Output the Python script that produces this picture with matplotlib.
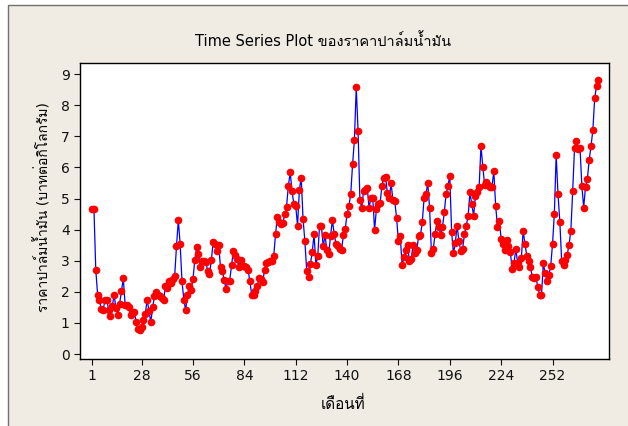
import matplotlib
matplotlib.use("Agg")
import matplotlib.pyplot as plt
from matplotlib import font_manager as fm
from matplotlib.ft2font import FT2Font
from matplotlib.patches import Rectangle

# ราคาปาล์มน้ำมันรายเดือน (บาท/กก.) อ่านค่าจากกราฟ
price_1 = [4.65, 4.67, 2.71, 1.91, 1.73, 1.44, 1.40, 1.74, 1.75, 1.41,
           1.22, 1.54, 1.90, 1.48, 1.27, 1.62, 2.02, 2.43, 1.59, 1.57,
           1.50, 1.27, 1.36, 1.36, 1.04, 0.80, 0.77, 0.88, 1.08, 1.29,
           1.75, 1.38, 1.02, 1.50, 1.86, 1.99]
price_2 = [1.91, 1.86, 1.80, 1.75, 2.18, 2.12, 2.34, 2.28, 2.41, 2.50,
           3.46, 4.31, 3.53, 2.34, 1.75, 1.41, 1.90, 2.18, 2.07, 2.42,
           3.03, 3.43, 3.21, 2.79, 3.00, 3.00, 2.96, 2.68, 2.57, 3.02,
           3.60, 3.53, 3.32, 3.51, 2.79, 2.68, 2.38, 2.10, 2.36, 2.36,
           2.85, 3.32]
price_3 = [3.19, 3.07, 2.80, 3.03, 2.82, 2.82, 2.80, 2.71, 2.34, 1.91,
           1.91, 2.02, 2.18, 2.44, 2.42, 2.31, 2.71, 2.92, 2.95, 2.98,
           2.98, 3.14, 3.85, 4.42, 4.24, 4.19, 4.21, 4.50, 4.74, 5.41,
           5.84, 5.24, 4.81, 4.77, 4.13, 5.28, 5.67, 4.35, 3.62, 2.68,
           2.47, 2.89, 3.28]
price_4 = [3.85, 2.87, 3.14, 4.13, 4.11, 3.46, 3.83, 3.33, 3.21, 3.81,
           4.31, 3.85, 3.53, 3.46, 3.39, 3.35, 3.83, 4.03, 4.50, 4.77,
           5.14, 6.10, 6.88, 8.58, 7.16, 4.95, 4.71, 5.24, 5.28, 5.35,
           4.69, 5.03, 5.03, 3.99, 4.67, 4.81, 4.85, 5.41, 5.67, 5.70,
           5.17]
price_5 = [5.01, 5.49, 4.95, 4.92, 4.37, 3.62, 3.78, 2.87, 3.11, 3.35,
           3.51, 2.98, 3.07, 3.51, 3.24, 3.35, 3.78, 3.82, 4.24, 5.03,
           5.15, 5.49, 4.69, 3.24, 3.39, 3.85, 4.28, 4.10, 3.83, 4.07,
           4.56, 5.15, 5.41, 5.73, 3.92, 3.24, 3.57, 4.13, 3.62, 3.32,
           3.39, 3.85]
price_6 = [4.13, 4.45, 5.20, 4.81, 4.45, 5.09, 5.20, 5.38, 6.69, 6.02,
           5.44, 5.52, 5.44, 5.38, 5.38, 5.88, 4.77, 4.10, 4.28, 3.71,
           3.53, 3.35, 3.67, 3.49, 3.28, 2.74, 2.92, 3.39, 2.92, 2.79,
           3.08, 3.96, 3.53, 3.16, 2.98, 2.79, 2.47, 2.44, 2.47, 2.15,
           1.91]
price_7 = [1.89, 2.92, 2.60, 2.34, 2.55, 2.82, 3.53, 4.50, 6.41, 5.14,
           4.25, 2.98, 2.85, 3.03, 3.19, 3.51, 3.96, 5.24, 6.63, 6.84,
           6.59, 6.63, 5.41, 4.71, 5.38, 5.63, 6.24, 6.69, 7.20, 8.23,
           8.62, 8.80]
price = price_1 + price_2 + price_3 + price_4 + price_5 + price_6 + price_7
month = list(range(1, len(price) + 1))

x_ticks = [1, 28, 56, 84, 112, 140, 168, 196, 224, 252]
y_ticks = [0, 1, 2, 3, 4, 5, 6, 7, 8, 9]

# หาฟอนต์ที่มีอักษรไทย
thai_font = None
for f in fm.fontManager.ttflist:
    try:
        if 0x0E02 in FT2Font(f.fname).get_charmap():
            thai_font = f.name
            break
    except Exception:
        pass
families = ['DejaVu Sans']
if thai_font:
    families.append(thai_font)
plt.rcParams['font.family'] = families

bg = '#F0ECE3'
fig = plt.figure(figsize=(6.28, 4.26), dpi=100, facecolor='white')
# กรอบพื้นหลังแบบ Minitab
fig.patches.append(Rectangle((8 / 628, -0.1), 1.2, 1.1 - 5 / 426,
                             transform=fig.transFigure, facecolor=bg,
                             edgecolor='#707070', linewidth=1, zorder=-10))

ax = fig.add_axes([80 / 628, 1 - 359 / 426, 529 / 628, 296 / 426])
ax.set_facecolor('white')
ax.plot(month, price, color='#0000FF', linewidth=0.9,
        marker='o', markersize=4.5, markerfacecolor='#FF0000',
        markeredgecolor='#FF0000')

ax.set_xlim(-5.6, 282.8)
ax.set_ylim(-0.16, 9.36)
ax.set_xticks(x_ticks)
ax.set_yticks(y_ticks)
ax.tick_params(direction='out', length=4, width=0.8, labelsize=10,
               colors='#111111', top=False, right=False)
for s in ax.spines.values():
    s.set_linewidth(1)
    s.set_color('black')

fig.text(0.515, 1 - 41 / 426, 'Time Series Plot ของราคาปาล์มน้ำมัน',
         ha='center', va='center', fontsize=10.5)
fig.text(43 / 628, 1 - 207 / 426, 'ราคาปาล์มน้ำมัน (บาทต่อกิโลกรัม)',
         ha='center', va='center', rotation=90, fontsize=10)
fig.text(343 / 628, 1 - 404 / 426, 'เดือนที่', ha='center', va='center',
         fontsize=11)

fig.savefig('out.png', dpi=100, facecolor=fig.get_facecolor())
